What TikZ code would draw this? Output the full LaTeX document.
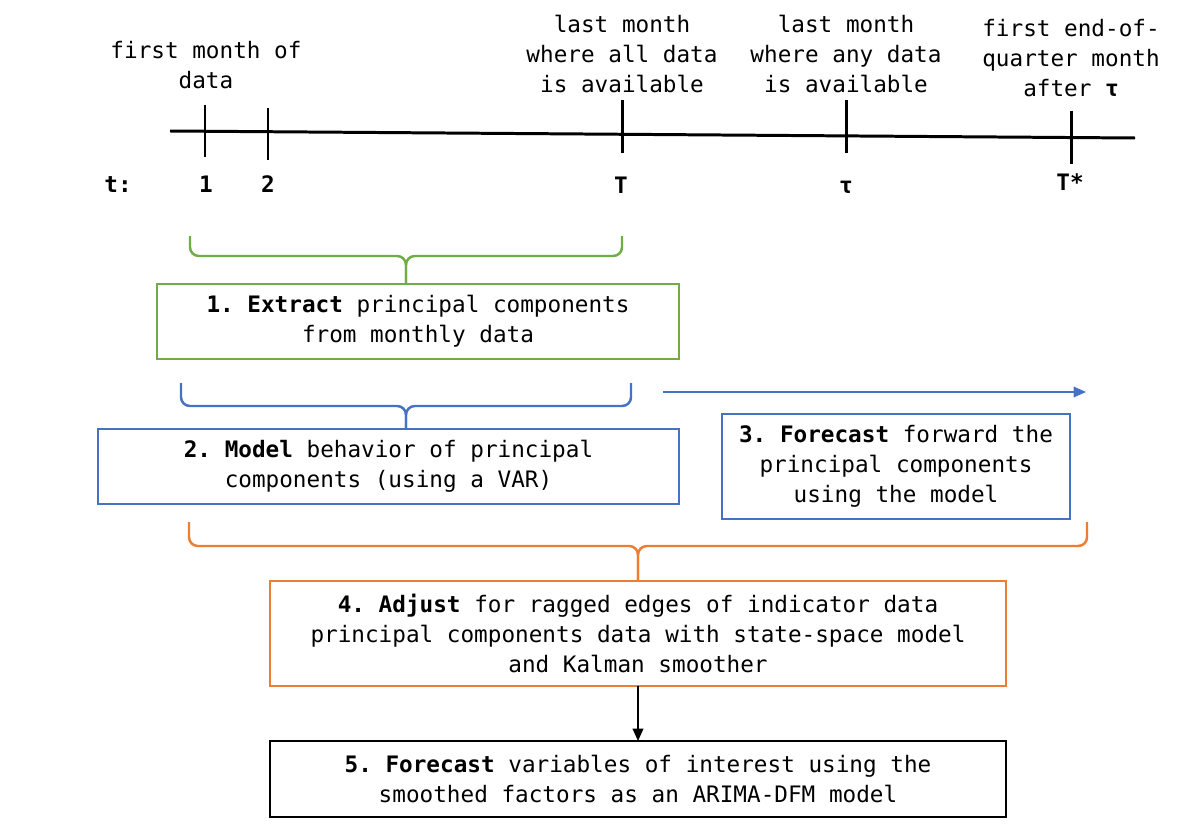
\documentclass[tikz,border=0pt]{standalone}
\usepackage{fontspec}
\setmonofont{DejaVu Sans Mono}
\usetikzlibrary{calc,arrows.meta}

\definecolor{grn}{RGB}{112,173,71}
\definecolor{blu}{RGB}{68,114,196}
\definecolor{org}{RGB}{237,125,49}

\tikzset{
  txt/.style={font=\ttfamily\fontsize{12.9}{17}\selectfont, align=center, inner sep=0pt},
  tick/.style={font=\ttfamily\bfseries\fontsize{12.9}{17}\selectfont, anchor=base, inner sep=0pt},
  stepbox/.style={draw=#1, line width=1.1pt, txt, outer sep=0pt},
  grp/.style={draw=#1, line width=1.4pt, rounded corners=5pt},
  tip/.style={-{Triangle[length=7pt,width=6pt]}}
}

\begin{document}
\begin{tikzpicture}[x=0.02cm,y=-0.02cm]
  \useasboundingbox (0,0) rectangle (1192,824);

  \newcommand{\grp}[6]{
    \pgfmathsetmacro{\mx}{(#2+#3)/2}
    \draw[grp=#1] (#2,#4) |- (\mx,#5) -- (#6.north -| \mx,0);
    \draw[grp=#1] (#3,#4) |- (\mx,#5) -- (#6.north -| \mx,0);
  };

  % time line
  \coordinate (t0) at (170,131);
  \coordinate (t1) at (1135,138);
  \draw[line width=1.7pt] (t0) -- (t1);
  \foreach \x/\a/\b in {205/105/157, 268/108/160, 622/100/153, 846/100/153, 1071/111/164}
    \draw[line width=1.7pt] (\x,\a) -- (\x,\b);

  \node[tick] (tt) at (118,193) {t:};
  \node[tick] (t1l) at (206,193) {1};
  \node[tick] (t2l) at (268,193) {2};
  \node[tick] (tTl) at (621,194) {T};
  \node[tick] (ttau) at (846,194) {τ};
  \node[tick] (tstar) at (1070,191) {T*};

  \node[txt] (first) at (206,65) {first month of\\data};
  \node[txt] (alldata) at (622,54) {last month\\where all data\\is available};
  \node[txt] (anydata) at (846,54) {last month\\where any data\\is available};
  \node[txt] (quarter) at (1071,58) {first end-of-\\quarter month\\after \textbf{τ}};

  % steps
  \node[stepbox=grn, minimum width=10.44cm, minimum height=1.5cm] (extract) at (418,321.5)
    {\textbf{1. Extract} principal components\\from monthly data};
  \node[stepbox=blu, minimum width=11.62cm, minimum height=1.5cm] (model) at (388.5,466.5)
    {\textbf{2. Model} behavior of principal\\components (using a VAR)};
  \node[stepbox=blu, minimum width=6.96cm, minimum height=2.1cm] (forecast) at (896,466.5)
    {\textbf{3. Forecast} forward the\\principal components\\using the model};
  \node[stepbox=org, minimum width=14.72cm, minimum height=2.1cm] (adjust) at (638,633.5)
    {\textbf{4. Adjust} for ragged edges of indicator data\\principal components data with state-space model\\and Kalman smoother};
  \node[stepbox=black, minimum width=14.72cm, minimum height=1.52cm] (final) at (638,779)
    {\textbf{5. Forecast} variables of interest using the\\smoothed factors as an ARIMA-DFM model};

  \grp{grn}{190}{622}{236}{256}{extract};
  \grp{blu}{181}{631}{383}{406}{model};
  \grp{org}{189}{1087}{522}{546}{adjust};

  \coordinate (fs) at (663,392);
  \coordinate (fe) at (1086,392);
  \draw[blu, line width=0.8pt, tip] (fs) -- (fe);
  \draw[line width=1.1pt, tip] (adjust) -- (final);

\end{tikzpicture}
\end{document}
